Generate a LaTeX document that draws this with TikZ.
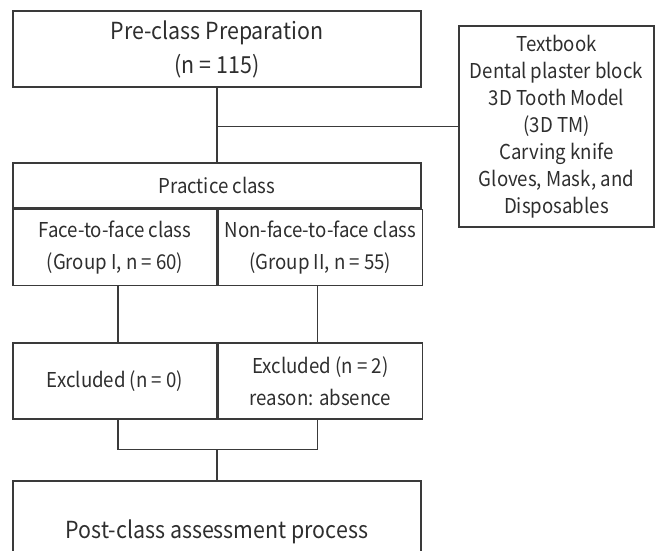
\documentclass[tikz,border=0pt]{standalone}
\usepackage{fontspec}
\setmainfont{Noto Sans CJK KR}[FakeStretch=0.91]
\usetikzlibrary{positioning}
\definecolor{lnc}{HTML}{3A3A3A}
\definecolor{txc}{HTML}{2E2E2E}
\tikzset{
  box/.style={draw=lnc,line width=1.3pt,rectangle,align=center,text=txc,inner sep=0pt,font=\fontsize{20.5}{32.5}\selectfont},
  bigbox/.style={box,font=\fontsize{23.5}{34}\selectfont},
  matbox/.style={box,font=\fontsize{20.5}{27}\selectfont},
  ln/.style={draw=lnc,line width=1.3pt},
}

\begin{document}
\begin{tikzpicture}[x=1pt,y=-1pt]
  \useasboundingbox (0,0) rectangle (657,550);
  \node[bigbox,minimum width=408pt,minimum height=76pt] (pre) at (217,49) {Pre-class Preparation\\(n = 115)};
  \node[matbox,minimum width=195pt,minimum height=201pt] (mat) at (556.5,126.5) {Textbook\\Dental plaster block\\3D Tooth Model\\(3D TM)\\Carving knife\\Gloves, Mask, and\\Disposables};
  \node[box,minimum width=408pt,minimum height=45pt] (prac) at (217,185.5) {Practice class};
  \node[box,minimum width=204pt,minimum height=76pt,anchor=north west] (grp1) at (prac.south west) {Face-to-face class\\(Group I, n = 60)};
  \node[box,minimum width=204pt,minimum height=76pt,right=0pt of grp1] (grp2) {Non-face-to-face class\\(Group II, n = 55)};
  \node[box,minimum width=204pt,minimum height=76pt] (exc1) at (115,381) {Excluded (n = 0)};
  \node[box,minimum width=204pt,minimum height=76pt,right=0pt of exc1] (exc2) {Excluded (n = 2)\\reason: absence};
  \node[bigbox,minimum width=408pt,minimum height=102pt] (post) at (217,532) {Post-class assessment process};
  \draw[ln] (pre.south) -- (prac.north);
  \draw[ln] (pre.south |- mat.west) -- (mat.west);
  \draw[ln] ([xshift=3pt]grp1.south) -- ([xshift=3pt]exc1.north);
  \draw[ln] ([xshift=-3pt]grp2.south) -- ([xshift=-3pt]exc2.north);
  \draw[ln] ([xshift=3pt]exc1.south) -- ++(0,30) coordinate (mid) -| ([xshift=-3pt]exc2.south);
  \draw[ln] (mid -| post.north) -- (post.north);
\end{tikzpicture}
\end{document}
